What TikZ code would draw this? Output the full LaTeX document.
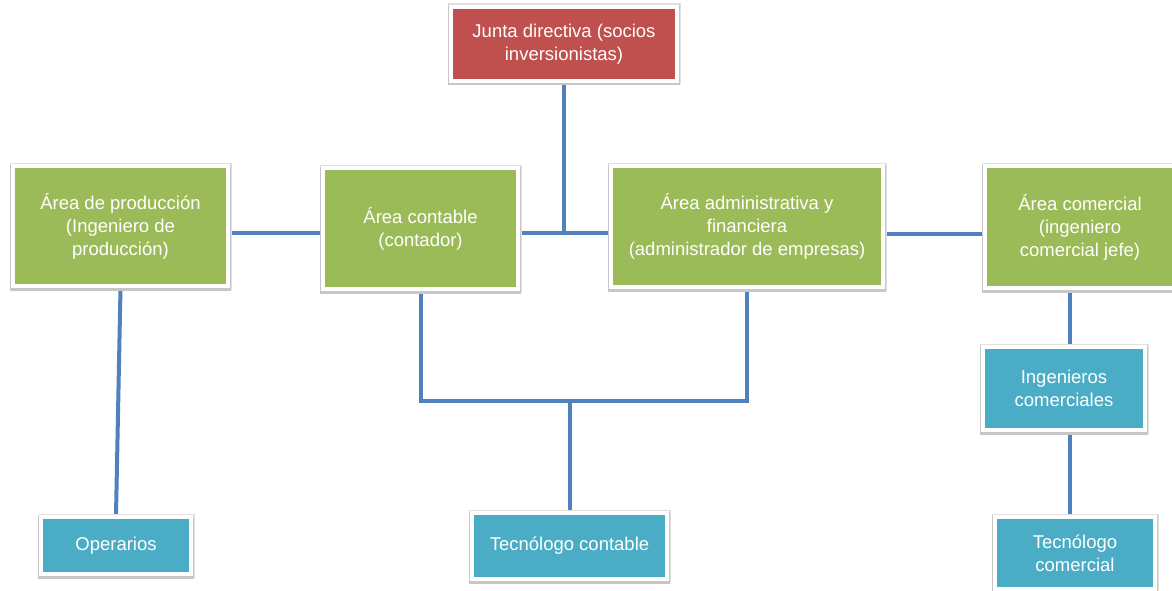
\documentclass[tikz,border=0pt]{standalone}
\usepackage{fontspec}
\setmainfont{Liberation Sans}
\usetikzlibrary{backgrounds,calc}
\definecolor{cgreen}{HTML}{9BBB59}
\definecolor{cred}{HTML}{C0504D}
\definecolor{cteal}{HTML}{4BACC6}
\definecolor{cline}{HTML}{4F81BD}
\tikzset{
  box/.style={draw=white, line width=4pt, inner sep=0pt, text=white, align=center,
    font=\fontsize{18.5}{23}\selectfont,
    preaction={draw=black!12, line width=7pt},
    preaction={draw=black!22, line width=6pt, transform canvas={yshift=-1.5pt}}},
  greenbox/.style={box, fill=cgreen},
  redbox/.style={box, fill=cred},
  tealbox/.style={box, fill=cteal},
  conn/.style={draw=cline, line width=4pt}
}
\begin{document}
\begin{tikzpicture}[x=1pt,y=-1pt]
\useasboundingbox (0,0) rectangle (1172,591);
\node[redbox, minimum width=226pt, minimum height=74pt] (junta) at (564,44) {Junta directiva (socios\\inversionistas)};
\node[greenbox, minimum width=215pt, minimum height=120pt] (prod) at (120.5,226) {Área de producción\\(Ingeniero de\\producción)};
\node[greenbox, minimum width=195pt, minimum height=121pt] (cont) at (420.5,228.5) {Área contable\\(contador)};
\node[greenbox, minimum width=272pt, minimum height=121pt] (admin) at (747,226.5) {Área administrativa y\\financiera\\(administrador de empresas)};
\node[greenbox, minimum width=190pt, minimum height=122pt] (com) at (1080,227) {Área comercial\\(ingeniero\\comercial jefe)};
\node[tealbox, minimum width=162pt, minimum height=83pt] (ing) at (1064,388.5) {Ingenieros\\comerciales};
\node[tealbox, minimum width=160pt, minimum height=72pt] (teccom) at (1075,553) {Tecnólogo\\comercial};
\node[tealbox, minimum width=150pt, minimum height=57pt] (oper) at (116,545.5) {Operarios};
\node[tealbox, minimum width=195pt, minimum height=66pt] (teccont) at (569.5,546) {Tecnólogo contable};
\coordinate (j) at ($(teccont.north)+(0,-110)$);
\begin{pgfonlayer}{background}
  \fill[white] (0,0) rectangle (1172,591);
  \draw[conn] ([yshift=-7pt]prod.east) -- ([yshift=-4.5pt]cont.west);
  \draw[conn] ([yshift=-4.5pt]cont.east) -- ([yshift=-6.5pt]admin.west);
  \draw[conn] (junta.south) -- ([yshift=-5.5pt]junta.south |- cont.east);
  \draw[conn] ([yshift=-7pt]admin.east) -- ([yshift=-6.5pt]com.west);
  \draw[conn] (prod.south) -- (oper.north);
  \draw[conn] (cont.south) |- (j) -| (admin.south);
  \draw[conn] (j) -- (teccont.north);
  \draw[conn] ([xshift=6pt]ing.north) -- ([xshift=6pt]ing.north |- com.south);
  \draw[conn] ([xshift=6pt]ing.south) -- ([xshift=6pt]ing.south |- teccom.north);
\end{pgfonlayer}
\end{tikzpicture}
\end{document}
